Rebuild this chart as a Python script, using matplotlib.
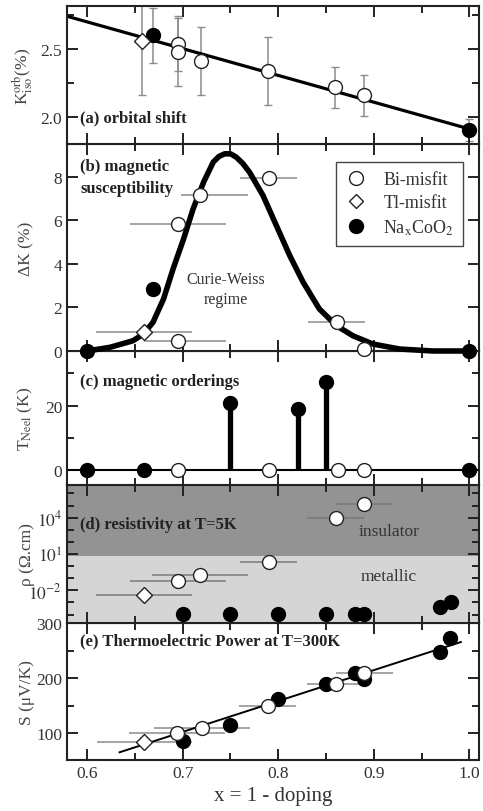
import matplotlib
matplotlib.use('Agg')
import matplotlib.pyplot as plt
from matplotlib.ticker import MultipleLocator, FixedLocator, NullFormatter, FixedFormatter
from matplotlib.lines import Line2D

plt.rcParams['font.family'] = ['Liberation Serif', 'DejaVu Serif']
plt.rcParams['mathtext.fontset'] = 'stix'

# ---------------- data ----------------
# (a) orbital shift
a_bi_x = [0.695, 0.695, 0.719, 0.789, 0.859, 0.890]
a_bi_y = [2.54, 2.48, 2.41, 2.34, 2.22, 2.16]
a_bi_err = [0.20, 0.25, 0.25, 0.25, 0.15, 0.15]
a_tl_x = [0.657]
a_tl_y = [2.56]
a_tl_err = [0.40]
a_na_x = [0.669, 1.0]
a_na_y = [2.60, 1.91]
a_na_err = [0.20, 0.08]
a_fit_x = [0.579, 1.0]
a_fit_y = [2.74, 1.915]

# (b) magnetic susceptibility
b_bi_x = [0.695, 0.695, 0.718, 0.790, 0.861, 0.890]
b_bi_y = [0.47, 5.84, 7.14, 7.94, 1.35, 0.08]
b_bi_xerr_lo = [0.035, 0.05, 0.02, 0.03, 0.03, 0.0]
b_bi_xerr_hi = [0.05, 0.05, 0.05, 0.03, 0.03, 0.0]
b_tl_x = [0.6595]
b_tl_y = [0.86]
b_tl_xerr = [0.05]
b_na_x = [0.600, 0.669, 1.0]
b_na_y = [0.0, 2.85, 0.0]
b_cw_x = [0.600, 0.624, 0.648, 0.659, 0.669, 0.680, 0.690, 0.701, 0.711, 0.722,
          0.732, 0.738, 0.744, 0.750, 0.756, 0.763, 0.770, 0.784, 0.798, 0.812,
          0.826, 0.843, 0.861, 0.878, 0.899, 0.927, 0.962, 1.000]
b_cw_y = [0.0, 0.17, 0.47, 0.78, 1.32, 2.39, 3.77, 5.15, 6.53, 7.76,
          8.67, 8.93, 9.05, 9.05, 8.90, 8.60, 8.20, 7.14, 5.76, 4.38,
          3.16, 1.93, 1.16, 0.70, 0.32, 0.09, 0.0, 0.0]

# (c) magnetic orderings
c_na0_x = [0.600, 0.6595, 1.0]
c_na0_T = [0, 0, 0]
c_bi0_x = [0.695, 0.790, 0.862, 0.890]
c_bi0_T = [0, 0, 0, 0]
c_order_x = [0.749, 0.821, 0.850]
c_order_T = [20.7, 19.0, 27.3]

# (d) resistivity at T=5K
d_bi_x = [0.695, 0.718, 0.790, 0.860, 0.890]
d_bi_rho = [0.06, 0.19, 2.2, 9.5e3, 1.4e5]
d_bi_xerr = [0.05, 0.05, 0.03, 0.03, 0.03]
d_tl_x = [0.6595]
d_tl_rho = [4.4e-3]
d_tl_xerr = [0.05]
d_na_x = [0.700, 0.749, 0.800, 0.850, 0.880, 0.890, 0.969, 0.981]
d_na_rho = [1.2e-4, 1.2e-4, 1.2e-4, 1.2e-4, 1.2e-4, 1.2e-4, 4.1e-4, 1.05e-3]
d_boundary = 7.0

# (e) thermoelectric power at T=300K
e_bi_x = [0.694, 0.720, 0.789, 0.860, 0.890]
e_bi_S = [100, 109.6, 150, 189, 210]
e_bi_xerr = [0.05, 0.05, 0.03, 0.03, 0.03]
e_tl_x = [0.660]
e_tl_S = [83.6]
e_tl_xerr = [0.05]
e_na_x = [0.700, 0.749, 0.800, 0.850, 0.880, 0.890, 0.969, 0.980]
e_na_S = [86.6, 115, 163, 189.6, 209, 198.7, 247, 272]
e_fit_x = [0.634, 0.991]
e_fit_S = [65.5, 265.5]

# ---------------- layout ----------------
W, H = 483, 812
fig = plt.figure(figsize=(W / 100, H / 100), dpi=100)
left_px, right_px = 67, 479
bounds_px = [(7, 145), (145, 352), (352, 486), (486, 624), (624, 761)]
axes = []
for i, (top, bot) in enumerate(bounds_px):
    ax = fig.add_axes([left_px / W, 1 - bot / H, (right_px - left_px) / W, (bot - top) / H])
    ax.set_zorder(10 - i)
    axes.append(ax)
axa, axb, axc, axd, axe = axes

XLIM = (0.579, 1.01)
TXT = '#333333'
ERRC = '#8c8c8c'
MS = 10
lab_fs = 12.5
panel_fs = 12

for ax in axes:
    ax.set_xlim(*XLIM)
    ax.xaxis.set_major_locator(MultipleLocator(0.1))
    ax.xaxis.set_minor_locator(MultipleLocator(0.05))
    ax.tick_params(which='both', direction='in', top=True, right=True,
                   colors='#222222', labelcolor=TXT, labelsize=12.5, width=1.4)
    ax.tick_params(which='major', length=8)
    ax.tick_params(which='minor', length=5)
    for s in ax.spines.values():
        s.set_linewidth(1.5)
        s.set_color('#222222')
    if ax is not axe:
        ax.tick_params(labelbottom=False)
    ax.yaxis.set_label_coords(-0.078, 0.5)

open_kw = dict(mfc='white', mec='#222222', mew=1.0, ms=MS, ls='none', clip_on=False, zorder=5)
dia_kw = dict(marker='D', mfc='white', mec='#222222', mew=1.0, ms=MS * 0.78, ls='none', clip_on=False, zorder=5)
na_kw = dict(marker='o', color='black', ms=MS, ls='none', clip_on=False, zorder=4)

# ---- (a)
axa.plot(a_fit_x, a_fit_y, color='black', lw=2.3, zorder=2)
axa.errorbar(a_tl_x, a_tl_y, yerr=a_tl_err, fmt='none', ecolor=ERRC, elinewidth=1.1, capsize=3, zorder=1)
axa.errorbar(a_na_x, a_na_y, yerr=a_na_err, fmt='none', ecolor=ERRC, elinewidth=1.1, capsize=3, zorder=1)
axa.errorbar(a_bi_x, a_bi_y, yerr=a_bi_err, fmt='none', ecolor=ERRC, elinewidth=1.1, capsize=3, zorder=1)
axa.plot(a_tl_x, a_tl_y, **dia_kw)
axa.plot(a_na_x, a_na_y, **na_kw)
axa.plot(a_bi_x, a_bi_y, marker='o', **open_kw)
axa.set_ylim(1.805, 2.815)
axa.yaxis.set_major_locator(FixedLocator([2.0, 2.5]))
axa.yaxis.set_major_formatter(FixedFormatter(['2.0', '2.5']))
axa.yaxis.set_minor_locator(FixedLocator([2.25, 2.75]))
axa.set_ylabel(r'K$^{\rm orb}_{\rm iso}$(%)', fontsize=lab_fs, color='#444444')
axa.text(0.593, 2.0, '(a) orbital shift', fontsize=panel_fs, fontweight='bold', va='center', ha='left', color='#222222')

# ---- (b)
axb.errorbar(b_bi_x, b_bi_y, xerr=[b_bi_xerr_lo, b_bi_xerr_hi], fmt='none', ecolor=ERRC, elinewidth=1.1, zorder=1)
axb.errorbar(b_tl_x, b_tl_y, xerr=b_tl_xerr, fmt='none', ecolor=ERRC, elinewidth=1.1, zorder=1)
axb.plot(b_cw_x, b_cw_y, color='black', lw=4.0, solid_capstyle='round', zorder=3, clip_on=False)
axb.plot(b_na_x, b_na_y, **na_kw)
axb.plot(b_tl_x, b_tl_y, **dia_kw)
axb.plot(b_bi_x, b_bi_y, marker='o', **open_kw)
axb.set_ylim(0, 9.5)
axb.yaxis.set_major_locator(FixedLocator([0, 2, 4, 6, 8]))
axb.set_ylabel('ΔK (%)', fontsize=lab_fs, color='#444444')
axb.text(0.593, 8.5, '(b) magnetic', fontsize=panel_fs, fontweight='bold', va='center', ha='left', color='#222222')
axb.text(0.593, 7.5, 'susceptibility', fontsize=panel_fs, fontweight='bold', va='center', ha='left', color='#222222')
axb.text(0.745, 2.85, 'Curie-Weiss\nregime', fontsize=11.5, ha='center', va='center', color='#333333', linespacing=1.3)
handles = [Line2D([], [], marker='o', mfc='white', mec='#222222', mew=1.0, ms=MS, ls='none'),
           Line2D([], [], marker='D', mfc='white', mec='#222222', mew=1.0, ms=MS * 0.7, ls='none'),
           Line2D([], [], marker='o', color='black', ms=MS, ls='none')]
leg = axb.legend(handles, ['Bi-misfit', 'Tl-misfit', r'Na$_{\rm x}$CoO$_2$'], loc='upper right',
                 bbox_to_anchor=(0.961, 0.913), borderaxespad=0, fontsize=13, fancybox=False,
                 edgecolor='#444444', handlelength=1.2, handletextpad=0.9, borderpad=0.5,
                 labelspacing=0.35, framealpha=1)
leg.get_frame().set_linewidth(1.0)
for t in leg.get_texts():
    t.set_color('#333333')

# ---- (c)
axc.axhline(0, color='black', lw=1.5, zorder=2)
axc.vlines(c_order_x, 0, c_order_T, color='black', lw=3.8, zorder=3)
axc.plot(c_order_x, c_order_T, **na_kw)
axc.plot(c_na0_x, c_na0_T, **na_kw)
axc.plot(c_bi0_x, c_bi0_T, marker='o', **open_kw)
axc.set_ylim(-4.7, 37)
axc.yaxis.set_major_locator(FixedLocator([0, 20]))
axc.yaxis.set_minor_locator(FixedLocator([10, 30]))
axc.set_ylabel(r'T$_{\rm Neel}$ (K)', fontsize=lab_fs, color='#444444')
axc.text(0.593, 27.8, '(c) magnetic orderings', fontsize=panel_fs, fontweight='bold', va='center', ha='left', color='#222222')

# ---- (d)
axd.set_yscale('log')
axd.set_ylim(10 ** -4.7, 10 ** 6.7)
axd.axhspan(10 ** -4.7, d_boundary, color='#d5d5d5', zorder=0, lw=0)
axd.axhspan(d_boundary, 10 ** 6.7, color='#939393', zorder=0, lw=0)
axd.errorbar(d_bi_x, d_bi_rho, xerr=d_bi_xerr, fmt='none', ecolor='#7a7a7a', elinewidth=1.1, zorder=1)
axd.errorbar(d_tl_x, d_tl_rho, xerr=d_tl_xerr, fmt='none', ecolor='#7a7a7a', elinewidth=1.1, zorder=1)
axd.plot(d_na_x, d_na_rho, **na_kw)
axd.plot(d_tl_x, d_tl_rho, **dia_kw)
axd.plot(d_bi_x, d_bi_rho, marker='o', **open_kw)
axd.yaxis.set_major_locator(FixedLocator([1e-2, 1e1, 1e4]))
axd.yaxis.set_major_formatter(FixedFormatter([r'$10^{-2}$', r'$10^{1}$', r'$10^{4}$']))
axd.yaxis.set_minor_locator(FixedLocator([1e-4, 1e-3, 1e-1, 1e0, 1e2, 1e3, 1e5, 1e6]))
axd.yaxis.set_minor_formatter(NullFormatter())
axd.set_ylabel('ρ (Ω.cm)', fontsize=lab_fs, color='#444444')
axd.text(0.593, 10 ** 3.5, '(d) resistivity at T=5K', fontsize=panel_fs, fontweight='bold', va='center', ha='left', color='#222222')
axd.text(0.916, 10 ** 2.87, 'insulator', fontsize=12.5, ha='center', va='center', color='#333333')
axd.text(0.916, 10 ** -0.79, 'metallic', fontsize=12.5, ha='center', va='center', color='#333333')

# ---- (e)
axe.plot(e_fit_x, e_fit_S, color='black', lw=1.4, zorder=2)
axe.errorbar(e_bi_x, e_bi_S, xerr=e_bi_xerr, fmt='none', ecolor=ERRC, elinewidth=1.1, zorder=1)
axe.errorbar(e_tl_x, e_tl_S, xerr=e_tl_xerr, fmt='none', ecolor=ERRC, elinewidth=1.1, zorder=1)
axe.plot(e_na_x, e_na_S, **na_kw)
axe.plot(e_tl_x, e_tl_S, **dia_kw)
axe.plot(e_bi_x, e_bi_S, marker='o', **open_kw)
axe.set_ylim(51.5, 300)
axe.yaxis.set_major_locator(FixedLocator([100, 200, 300]))
axe.yaxis.set_minor_locator(FixedLocator([150, 250]))
axe.set_ylabel('S (μV/K)', fontsize=lab_fs, color='#444444')
axe.text(0.593, 268, '(e) Thermoelectric Power at T=300K', fontsize=panel_fs, fontweight='bold', va='center', ha='left', color='#222222')
axe.set_xticks([0.6, 0.7, 0.8, 0.9, 1.0])
axe.set_xticklabels(['0.6', '0.7', '0.8', '0.9', '1.0'])
axe.set_xlabel('x = 1 - doping', fontsize=15, color='#333333', labelpad=4)

fig.savefig('out.png', dpi=100)
